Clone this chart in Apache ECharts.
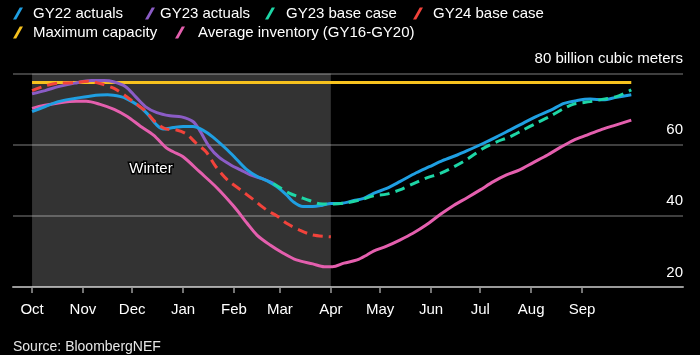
<!DOCTYPE html>
<html><head><meta charset="utf-8">
<script src="https://cdn.jsdelivr.net/npm/echarts@6/dist/echarts.min.js"></script>
<style>html,body{margin:0;padding:0;background:#000;}#c{width:700px;height:355px;}</style>
</head><body><div id="c"></div>
<script>
// ---- data (days counted from Oct 1 of the gas year) ----
const monthLabels = ['Oct','Nov','Dec','Jan','Feb','Mar','Apr','May','Jun','Jul','Aug','Sep'];
const monthTickDays = [0,31,61,92,123,151,182,212,243,273,304,335];
const yTicks = [20,40,60,80];
const yUnit = 'billion cubic meters';

const seriesNames = ['GY22 actuals','GY23 actuals','GY23 base case','GY24 base case','Maximum capacity','Average inventory (GY16-GY20)'];

const gy22Days = [0,8,16,26,36,46,54,58,64,70,76,80,86,92,98,104,110,119,125,131,137,143,149,155,159,165,171,177,182,188,196,202,208,216,224,234,242,250,259,265,275,283,291,299,307,316,324,332,340,348,356,365];
const gy22Values = [69.3,70.7,72.1,73.0,73.7,74.0,73.5,72.8,71.2,68.8,65.5,64.4,64.8,65.1,65.1,64.1,62.2,58.5,55.7,52.9,51.1,49.9,48.2,45.9,44.0,42.6,42.6,43.0,43.5,43.5,44.3,44.9,46.3,47.7,49.6,52.1,53.8,55.5,57.1,58.3,60.4,62.2,64.1,66.0,67.9,69.7,71.6,72.4,72.8,72.6,73.3,74.0];

const gy23Days = [0,8,16,26,36,44,50,57,63,69,76,84,91,98,102,108,114,121,127,133,141,147];
const gy23Values = [74.3,75.2,76.3,77.3,78.0,78.0,77.6,76.3,73.5,70.7,69.0,68.1,67.8,66.5,64.1,59.4,56.4,54.3,52.9,51.5,50.3,49.1];

const gy23BaseDays = [147,157,163,169,175,184,192,200,208,216,224,232,240,249,257,265,275,283,291,299,307,316,324,330,340,348,356,365];
const gy23BaseValues = [49.1,46.3,45.3,44.3,43.4,43.3,43.7,44.5,45.6,46.1,47.3,49.0,50.6,52.0,53.8,55.9,59.0,60.8,62.2,64.1,66.0,68.1,70.2,71.4,72.1,72.8,73.5,75.4];

const gy24BaseDays = [0,8,16,26,34,42,50,57,63,69,75,81,88,94,100,106,112,119,127,135,143,149,155,163,171,182];
const gy24BaseValues = [75.2,76.5,77.3,77.4,77.8,77.1,75.8,73.7,71.6,69.5,66.4,64.5,64.1,63.0,60.4,58.0,53.8,50.1,47.3,44.5,41.6,40.0,37.9,36.0,34.6,34.1];

const maxCapDays = [0,365];
const maxCapValues = [77.5,77.5];

const avgDays = [0,7,17,27,33,41,50,58,66,74,82,86,92,102,113,123,131,137,145,153,161,171,178,183,190,198,204,208,216,224,232,240,249,257,265,273,281,289,297,305,314,322,330,338,346,354,365];
const avgValues = [70.2,71.0,71.8,72.2,72.2,71.4,69.9,67.9,65.2,62.7,59.0,58.0,56.6,52.4,47.7,42.6,37.9,34.6,31.8,29.5,27.6,26.5,25.7,25.7,26.7,27.6,29.0,30.1,31.5,33.2,35.1,37.4,40.5,43.0,45.1,47.3,49.6,51.5,52.9,54.9,57.1,59.3,61.3,62.7,64.1,65.3,66.9];

const winterStart = 0, winterEnd = 182;

// ---- styling ----
const FONT = '"Liberation Sans", Arial, sans-serif';
const colors = ['#1f9fe2','#8b5cc6','#1dd6a6','#f2433b','#f7c21e','#e45fae'];
const SLASH = 'path://M0,12 L3.2,12 L10,0 L6.8,0 Z';
const legendPos = [[13,6],[145,6],[265,6],[413,6],[13,25],[175,25]];
const legendGap = [5,0,6,5,5,8];

const pairs = (d, v) => d.map((x, i) => [x, v[i]]);

const chart = echarts.init(document.getElementById('c'), null, {renderer:'canvas'});

const legends = seriesNames.map((n, i) => ({
  data: [{name: n, icon: SLASH, itemStyle: {color: colors[i], borderWidth: 0}}],
  left: legendPos[i][0], top: legendPos[i][1], padding: 0,
  itemWidth: 10, itemHeight: 12, selectedMode: false,
  formatter: name => '{s|}' + name,
  textStyle: {color: '#fff', fontSize: 15, fontFamily: FONT,
    rich: {s: {width: legendGap[i], fontSize: 15}}}
}));

function lineSeries(idx, d, v, dashed, extra) {
  return Object.assign({
    name: seriesNames[idx], type: 'line', data: pairs(d, v),
    symbol: 'none', smooth: 0.3, color: colors[idx],
    lineStyle: {color: colors[idx], width: 3, type: dashed ? [10,6] : 'solid'},
    itemStyle: {color: colors[idx]}, animation: false
  }, extra || {});
}

const option = {
  backgroundColor: '#000',
  animation: false,
  textStyle: {fontFamily: FONT},
  legend: legends,
  grid: {left: 13, right: 17, top: 73.5, bottom: 68, containLabel: false},
  xAxis: {
    type: 'value', min: -11.6, max: 396.5,
    splitLine: {show: false},
    axisLine: {lineStyle: {color: '#9a9a9a', width: 2}},
    axisTick: {customValues: monthTickDays, length: 6, lineStyle: {color: '#9a9a9a', width: 1.5}},
    axisLabel: {customValues: monthTickDays, formatter: v => monthLabels[monthTickDays.indexOf(v)],
      color: '#fff', fontSize: 15, margin: 15, fontFamily: FONT}
  },
  yAxis: {
    type: 'value', min: yTicks[0], max: yTicks[yTicks.length-1], interval: 20, position: 'right',
    axisLine: {show: false}, axisTick: {show: false},
    splitLine: {lineStyle: {color: '#555', width: 1.5}},
    axisLabel: {inside: true, margin: 0, verticalAlign: 'bottom', padding: [0,0,7,0],
      color: '#fff', fontSize: 15, fontFamily: FONT,
      formatter: v => v === yTicks[yTicks.length-1] ? v + ' ' + yUnit : String(v)}
  },
  series: [
    lineSeries(4, maxCapDays, maxCapValues, false, {smooth: false, markArea: {silent: true,
      itemStyle: {color: 'rgba(255,255,255,0.2)'}, data: [[{xAxis: winterStart}, {xAxis: winterEnd}]]}}),
    lineSeries(5, avgDays, avgValues, false),
    lineSeries(1, gy23Days, gy23Values, false),
    lineSeries(0, gy22Days, gy22Values, false),
    lineSeries(3, gy24BaseDays, gy24BaseValues, true),
    lineSeries(2, gy23BaseDays, gy23BaseValues, true)
  ],
  graphic: [
    {type: 'text', x: 151, y: 169, z: 100, style: {text: 'Winter', fill: '#fff', stroke: '#000', lineWidth: 3,
      font: '15px ' + FONT, align: 'center', verticalAlign: 'middle'}},
    {type: 'text', x: 13, y: 347, z: 100, style: {text: 'Source: BloombergNEF', fill: '#e6e6e6',
      font: '14px ' + FONT, align: 'left', verticalAlign: 'middle'}}
  ]
};
chart.setOption(option);
</script>
</body></html>
